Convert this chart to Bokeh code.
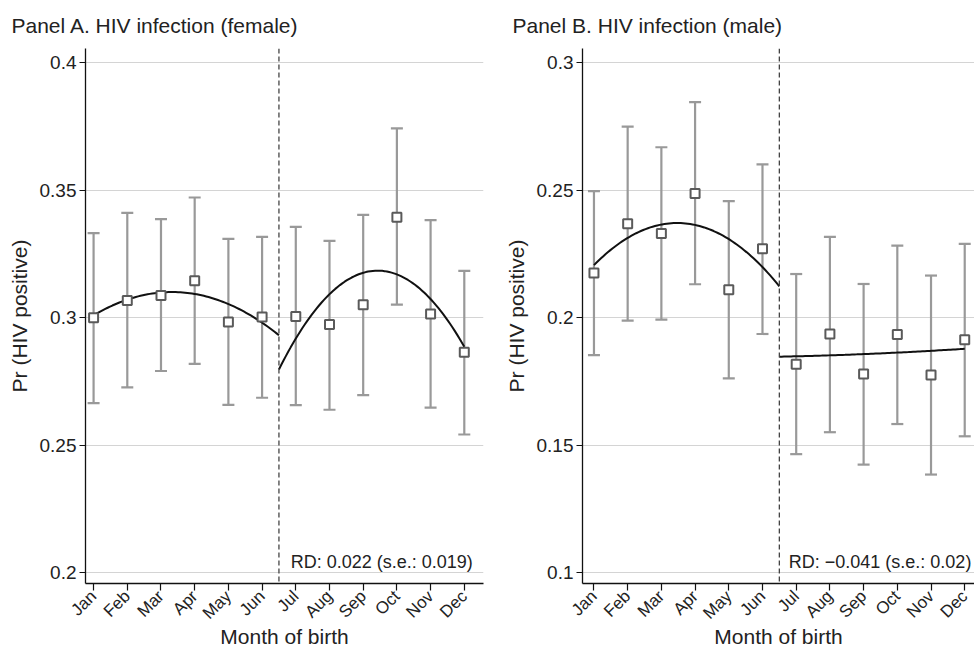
import numpy as np
from bokeh.plotting import figure
from bokeh.models import (Range1d, FixedTicker, CustomJSTickFormatter, ColumnDataSource,
                          Whisker, TeeHead, Span, Label)
from bokeh.layouts import row
from bokeh.embed import file_html
from bokeh.resources import INLINE

# ---------------- data ----------------
months = [1, 2, 3, 4, 5, 6, 7, 8, 9, 10, 11, 12]
month_labels = ["Jan", "Feb", "Mar", "Apr", "May", "Jun",
                "Jul", "Aug", "Sep", "Oct", "Nov", "Dec"]

female_est = [0.3000, 0.3067, 0.3087, 0.3145, 0.2983, 0.3003,
              0.3005, 0.2973, 0.3051, 0.3394, 0.3014, 0.2864]
female_hi = [0.3331, 0.3411, 0.3386, 0.3471, 0.3309, 0.3317,
             0.3356, 0.3301, 0.3403, 0.3742, 0.3382, 0.3183]
female_lo = [0.2665, 0.2727, 0.2791, 0.2819, 0.2658, 0.2686,
             0.2657, 0.2639, 0.2696, 0.3051, 0.2647, 0.2542]

male_est = [0.2175, 0.2368, 0.2330, 0.2487, 0.2109, 0.2270,
            0.1817, 0.1936, 0.1779, 0.1934, 0.1775, 0.1913]
male_hi = [0.2496, 0.2749, 0.2668, 0.2845, 0.2457, 0.2601,
           0.2171, 0.2317, 0.2132, 0.2282, 0.2165, 0.2289]
male_lo = [0.1853, 0.1988, 0.1992, 0.2131, 0.1762, 0.1936,
           0.1465, 0.1551, 0.1424, 0.1583, 0.1385, 0.1535]

# points (month, value)
fitA_left_x, fitA_left_y = [1, 3.5, 6.5], [0.3009, 0.3100, 0.2931]
fitA_right_x, fitA_right_y = [6.5, 9.5, 12], [0.2797, 0.3184, 0.2886]
fitB_left_x, fitB_left_y = [1, 3.5, 6.5], [0.2206, 0.2371, 0.2123]
fitB_right_x, fitB_right_y = [6.5, 9.5, 12], [0.1847, 0.1860, 0.1878]

cutoff = 6.5
female_yticks = [0.2, 0.25, 0.3, 0.35, 0.4]
male_yticks = [0.1, 0.15, 0.2, 0.25, 0.3]
female_rd = "RD: 0.022 (s.e.: 0.019)"
male_rd = "RD: \u22120.041 (s.e.: 0.02)"
x_title = "Month of birth"
y_title = "Pr (HIV positive)"

FONT = "Liberation Sans"
TXT = "#222222"


def fit_curve(xs, ys):
    c = np.polyfit(xs, ys, 2)
    gx = np.linspace(min(xs), max(xs), 80)
    return gx, np.polyval(c, gx)


def panel(title, est, lo, hi, fits, rd_text, rd_x, rd_y, yr, yticks, xr,
          width, bl, br, toff):
    p = figure(width=width, height=650, x_range=Range1d(*xr), y_range=Range1d(*yr),
               output_backend="svg", toolbar_location=None,
               min_border_left=bl, min_border_right=br, min_border_top=46,
               min_border_bottom=65)
    p.outline_line_color = None
    p.background_fill_color = "white"

    p.title.text = title
    p.title.text_font = FONT
    p.title.text_font_size = "21px"
    p.title.text_font_style = "normal"
    p.title.text_color = TXT
    p.title.offset = toff
    p.title.standoff = 23

    # grid
    p.xgrid.visible = False
    p.ygrid.grid_line_color = "#d4d4d4"
    p.ygrid.grid_line_width = 1.2

    # axes
    p.xaxis.ticker = FixedTicker(ticks=months)
    p.xaxis.major_label_overrides = {m: l for m, l in zip(months, month_labels)}
    p.xaxis.major_label_orientation = np.pi / 4
    p.yaxis.ticker = FixedTicker(ticks=yticks)
    p.yaxis.formatter = CustomJSTickFormatter(code="return String(Math.round(tick*1000)/1000)")
    for ax in (p.xaxis, p.yaxis):
        ax.axis_line_color = "#111111"
        ax.axis_line_width = 1.3
        ax.major_tick_line_color = "#111111"
        ax.major_tick_line_width = 1.2
        ax.major_tick_in = 0
        ax.minor_tick_line_color = None
        ax.major_label_text_font = FONT
        ax.major_label_text_color = TXT
        ax.axis_label_text_font = FONT
        ax.axis_label_text_font_size = "21px"
        ax.axis_label_text_font_style = "normal"
        ax.axis_label_text_color = TXT
    p.xaxis.major_label_text_font_size = "17px"
    p.yaxis.major_label_text_font_size = "19px"
    p.xaxis.major_tick_out = 7
    p.yaxis.major_tick_out = 6
    p.xaxis.major_label_standoff = 3
    p.yaxis.major_label_standoff = 3
    p.xaxis.axis_label_standoff = -8
    p.yaxis.axis_label_standoff = 6
    p.xaxis.axis_label = x_title
    p.yaxis.axis_label = y_title

    # cutoff line
    p.add_layout(Span(location=cutoff, dimension="height", line_color="#444444",
                      line_width=1.3, line_dash="5 3"))

    src = ColumnDataSource(dict(x=months, est=est, lo=lo, hi=hi))
    p.add_layout(Whisker(source=src, base="x", upper="hi", lower="lo",
                         line_color="#999999", line_width=2.2,
                         upper_head=TeeHead(size=12, line_color="#999999", line_width=2.2),
                         lower_head=TeeHead(size=12, line_color="#999999", line_width=2.2)))

    for fx, fy in fits:
        gx, gy = fit_curve(fx, fy)
        p.line(gx, gy, line_color="#111111", line_width=2)

    p.scatter("x", "est", source=src, marker="square", size=9,
              fill_color="white", line_color="#5a5a5a", line_width=2)

    p.add_layout(Label(x=rd_x, y=rd_y, text=rd_text, text_font=FONT,
                       text_font_size="18px", text_color=TXT,
                       text_baseline="alphabetic"))
    return p


pA = panel("Panel A. HIV infection (female)", female_est, female_lo, female_hi,
           [(fitA_left_x, fitA_left_y), (fitA_right_x, fitA_right_y)],
           female_rd, 6.85, 0.2043, (0.1958, 0.4055), female_yticks,
           (0.76, 12.57), 490, 85, 7, -74)
pB = panel("Panel B. HIV infection (male)", male_est, male_lo, male_hi,
           [(fitB_left_x, fitB_left_y), (fitB_right_x, fitB_right_y)],
           male_rd, 6.78, 0.1043, (0.0958, 0.3055), male_yticks,
           (0.66, 12.29), 484, 92, 0, -70)

layout = row(pA, pB)
open("out.html", "w").write(file_html(layout, INLINE))
